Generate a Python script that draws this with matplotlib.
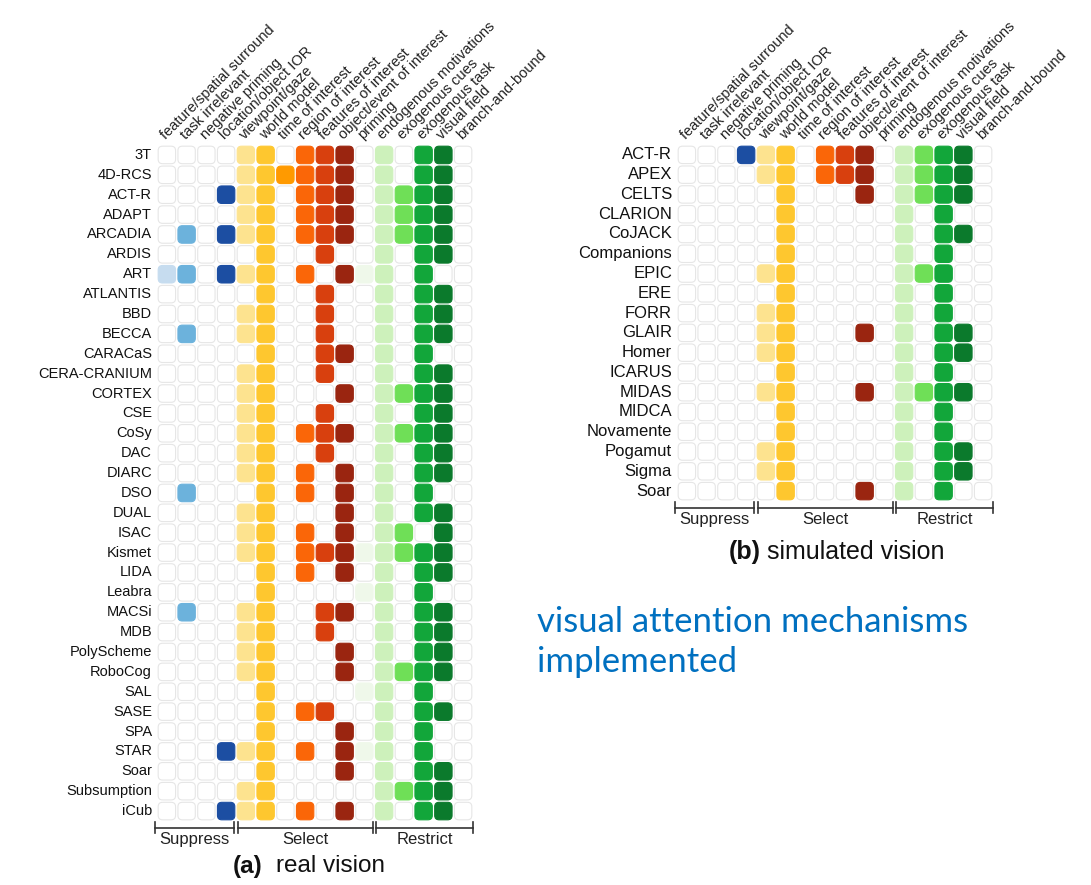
import matplotlib
matplotlib.use("Agg")
import matplotlib.pyplot as plt
from matplotlib.patches import FancyBboxPatch

plt.rcParams['font.family'] = ['Liberation Sans', 'DejaVu Sans']

# attention mechanisms (columns)
mechanisms = [
    "feature/spatial surround", "task irrelevant", "negative priming",
    "location/object IOR", "viewpoint/gaze", "world model", "time of interest",
    "region of interest", "features of interest", "object/event of interest",
    "priming", "endogenous motivations", "exogenous cues", "exogenous task",
    "visual field", "branch-and-bound",
]
mech_colors = [
    "#c6dcef", "#6cb2dc", "#3a80c0", "#1c4ea2", "#fde38f", "#fec72f",
    "#ff9a00", "#fa6608", "#d8400e", "#9a2510", "#eff8ea", "#cdf1bb",
    "#6fdf57", "#12a63a", "#0b7a2c", "#bbbbbb",
]

# groups: (label, first col, last col)
groups = [("Suppress", 0, 3), ("Select", 4, 10), ("Restrict", 11, 15)]

# (a) real vision
real_names = [
    "3T", "4D-RCS", "ACT-R", "ADAPT", "ARCADIA", "ARDIS", "ART", "ATLANTIS",
    "BBD", "BECCA", "CARACaS", "CERA-CRANIUM", "CORTEX", "CSE", "CoSy", "DAC",
    "DIARC", "DSO", "DUAL", "ISAC", "Kismet", "LIDA", "Leabra", "MACSi", "MDB",
    "PolyScheme", "RoboCog", "SAL", "SASE", "SPA", "STAR", "Soar",
    "Subsumption", "iCub",
]
real_cells = [
    [4, 5, 7, 8, 9, 11, 13, 14],
    [4, 5, 6, 7, 8, 9, 11, 13, 14],
    [3, 4, 5, 7, 8, 9, 11, 12, 13, 14],
    [4, 5, 7, 8, 9, 11, 12, 13, 14],
    [1, 3, 4, 5, 7, 8, 9, 11, 12, 13, 14],
    [5, 8, 11, 13, 14],
    [0, 1, 3, 4, 5, 7, 9, 10, 11, 13],
    [5, 8, 11, 13, 14],
    [4, 5, 8, 11, 13, 14],
    [1, 4, 5, 8, 11, 13, 14],
    [5, 8, 9, 11, 13],
    [4, 5, 8, 11, 13, 14],
    [4, 5, 9, 11, 12, 13, 14],
    [4, 5, 8, 11, 13, 14],
    [4, 5, 7, 8, 9, 11, 12, 13, 14],
    [4, 5, 8, 11, 13, 14],
    [4, 5, 7, 9, 11, 13, 14],
    [1, 5, 7, 9, 11, 13],
    [4, 5, 9, 11, 13, 14],
    [4, 5, 7, 9, 11, 12, 14],
    [4, 5, 7, 8, 9, 10, 11, 12, 13, 14],
    [5, 7, 9, 11, 13, 14],
    [5, 10, 11, 13],
    [1, 4, 5, 8, 9, 11, 13, 14],
    [4, 5, 8, 11, 13, 14],
    [4, 5, 9, 11, 13, 14],
    [4, 5, 9, 11, 12, 13, 14],
    [5, 10, 11, 13],
    [5, 7, 8, 11, 13, 14],
    [5, 9, 11, 13],
    [3, 4, 5, 7, 9, 10, 11, 13],
    [5, 9, 11, 13, 14],
    [4, 5, 11, 12, 13, 14],
    [3, 4, 5, 7, 9, 11, 13, 14],
]

# (b) simulated vision
sim_names = [
    "ACT-R", "APEX", "CELTS", "CLARION", "CoJACK", "Companions", "EPIC", "ERE",
    "FORR", "GLAIR", "Homer", "ICARUS", "MIDAS", "MIDCA", "Novamente",
    "Pogamut", "Sigma", "Soar",
]
sim_cells = [
    [3, 4, 5, 7, 8, 9, 11, 12, 13, 14],
    [4, 5, 7, 8, 9, 11, 12, 13, 14],
    [5, 9, 11, 12, 13, 14],
    [5, 11, 13],
    [5, 11, 13, 14],
    [5, 11, 13],
    [4, 5, 11, 12, 13],
    [5, 11, 13],
    [4, 5, 11, 13],
    [4, 5, 9, 11, 13, 14],
    [4, 5, 11, 13, 14],
    [5, 11, 13],
    [4, 5, 9, 11, 12, 13, 14],
    [5, 11, 13],
    [5, 11, 13],
    [4, 5, 11, 13, 14],
    [4, 5, 11, 13, 14],
    [5, 9, 11, 13],
]

W, H = 1091, 885
fig = plt.figure(figsize=(W / 100, H / 100), dpi=100)
fig.patch.set_facecolor("white")


def draw_panel(ax, names, cells, name_size):
    n = len(names)
    ncol = len(mechanisms)
    ax.set_xlim(0, ncol)
    ax.set_ylim(n, 0)
    ax.axis("off")
    pad = 0.06
    for r in range(n):
        for c in range(ncol):
            on = c in cells[r]
            box = FancyBboxPatch(
                (c + pad, r + pad), 1 - 2 * pad, 1 - 2 * pad,
                boxstyle="round,pad=0,rounding_size=0.22",
                facecolor=mech_colors[c] if on else "white",
                edgecolor=mech_colors[c] if on else "#e6e6e6",
                linewidth=0.8, clip_on=False)
            ax.add_patch(box)
        ax.text(-0.25, r + 0.5, names[r], ha="right", va="center",
                fontsize=name_size, color="#111111")
    # column labels
    for c, lab in enumerate(mechanisms):
        ax.text(c + 0.45, -0.25, lab, rotation=45, rotation_mode="anchor",
                ha="left", va="baseline", fontsize=10.5, color="#222222")
    # group brackets
    yb = n + 0.33
    for lab, c0, c1 in groups:
        x0 = c0 - 0.1 if c0 == 0 else c0 + 0.08
        x1 = c1 + 1 if c1 == ncol - 1 else c1 + 0.92
        ax.plot([x0, x1], [yb, yb], color="#333333", lw=1.2, clip_on=False)
        for xx in (x0, x1):
            ax.plot([xx, xx], [yb - 0.28, yb + 0.28], color="#333333",
                    lw=1.2, clip_on=False)
        ax.text((x0 + x1) / 2, yb + 0.6, lab, ha="center", va="center",
                fontsize=12, color="#222222")


ax_a = fig.add_axes([157 / W, 1 - 821 / H, 316 / W, 676 / H])
draw_panel(ax_a, real_names, real_cells, 10.5)
ax_b = fig.add_axes([677 / W, 1 - 501 / H, 316 / W, 356 / H])
draw_panel(ax_b, sim_names, sim_cells, 12)

# panel captions
fig.text(262 / W, 1 - 866 / H, "(a)", ha="right", va="center",
         fontsize=17.5, fontweight="bold", color="#111111")
fig.text(276 / W, 1 - 866 / H, "real vision", ha="left", va="center",
         fontsize=17.5, color="#111111")
fig.text(761 / W, 1 - 552 / H, "(b)", ha="right", va="center",
         fontsize=18, fontweight="bold", color="#111111")
fig.text(767 / W, 1 - 552 / H, "simulated vision", ha="left", va="center",
         fontsize=18, color="#111111")

fig.text(537 / W, 1 - 642 / H, "visual attention mechanisms\nimplemented",
         ha="left", va="center", fontsize=25, color="#0070c0",
         family=["Lato", "DejaVu Sans"], linespacing=1.3)

fig.savefig("out.png", dpi=100)
